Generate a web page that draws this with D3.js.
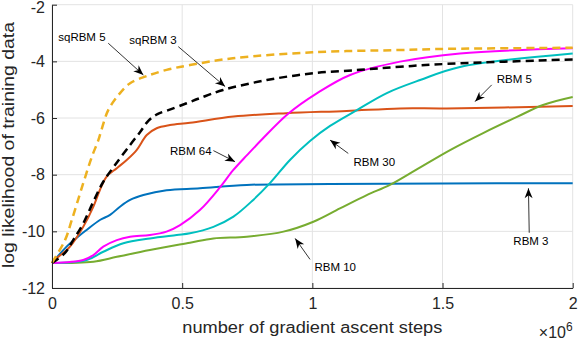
<!DOCTYPE html>
<html>
<head>
<meta charset="utf-8">
<script src="https://cdn.jsdelivr.net/npm/d3@7"></script>
<style>
  body { margin: 0; background: #fff; }
  svg { display: block; font-family: "Liberation Sans", Arial, sans-serif; }
</style>
</head>
<body>
<svg id="chart" width="578" height="342"></svg>
<script>
// gradient ascent steps (x 10^6) and log likelihood for each model
const stepsRbm3 = [0, 0.056, 0.108, 0.133, 0.184, 0.223, 0.261, 0.30, 0.351, 0.44, 0.568, 0.748, 1.068, 1.5, 2.0];
const llRbm3    = [-11.12, -10.54, -10.13, -9.95, -9.60, -9.42, -9.13, -8.89, -8.72, -8.55, -8.48, -8.36, -8.33, -8.31, -8.30];

const stepsRbm5 = [0, 0.018, 0.069, 0.12, 0.159, 0.184, 0.21, 0.249, 0.287, 0.325, 0.364, 0.402, 0.453, 0.53, 0.697, 0.90, 1.132, 1.337, 1.516, 2.0];
const llRbm5    = [-11.12, -10.95, -10.54, -9.84, -9.13, -8.54, -8.07, -7.77, -7.48, -7.13, -6.60, -6.36, -6.25, -6.17, -5.95, -5.83, -5.75, -5.66, -5.66, -5.58];

const stepsSq5 = [0, 0.05, 0.076, 0.12, 0.153, 0.178, 0.19, 0.216, 0.255, 0.30, 0.364, 0.44, 0.53, 0.695, 1.0, 1.337, 1.516, 2.0];
const llSq5    = [-11.11, -10.31, -9.60, -8.30, -7.37, -6.78, -6.42, -5.72, -5.19, -4.77, -4.52, -4.30, -4.13, -3.89, -3.68, -3.60, -3.56, -3.52];

const stepsSq3 = [0, 0.05, 0.082, 0.12, 0.159, 0.197, 0.242, 0.30, 0.338, 0.37, 0.405, 0.447, 0.517, 0.568, 0.657, 0.825, 1.003, 1.183, 1.337, 1.516, 2.0];
const llSq3    = [-11.12, -10.76, -10.30, -9.72, -8.95, -8.25, -7.66, -6.95, -6.50, -6.10, -5.86, -5.72, -5.48, -5.30, -5.01, -4.66, -4.42, -4.30, -4.19, -4.09, -3.93];

const stepsRbm64 = [0, 0.12, 0.159, 0.197, 0.249, 0.30, 0.376, 0.44, 0.492, 0.568, 0.645, 0.695, 0.75, 0.807, 0.907, 1.017, 1.145, 1.337, 1.567, 2.0];
const llRbm64    = [-11.12, -11.01, -10.84, -10.54, -10.31, -10.19, -10.13, -10.01, -9.78, -9.25, -8.45, -7.85, -7.30, -6.75, -5.85, -5.13, -4.48, -4.01, -3.72, -3.54];

const stepsRbm30 = [0, 0.133, 0.197, 0.274, 0.376, 0.479, 0.53, 0.62, 0.697, 0.773, 0.837, 0.914, 0.991, 1.068, 1.171, 1.286, 1.414, 1.567, 2.0];
const llRbm30    = [-11.12, -11.01, -10.72, -10.42, -10.25, -10.13, -10.07, -9.84, -9.48, -8.89, -8.30, -7.48, -6.81, -6.28, -5.72, -5.12, -4.66, -4.20, -3.72];

const stepsRbm10 = [0, 0.159, 0.249, 0.376, 0.53, 0.62, 0.748, 0.889, 1.004, 1.106, 1.209, 1.298, 1.398, 1.529, 1.656, 1.786, 1.886, 2.0];
const llRbm10    = [-11.12, -11.07, -10.90, -10.66, -10.40, -10.25, -10.19, -10.01, -9.66, -9.19, -8.72, -8.36, -7.83, -7.13, -6.53, -5.96, -5.54, -5.26];

const xTicks = [0, 0.5, 1, 1.5, 2];
const yTicks = [-12, -10, -8, -6, -4, -2];

// annotation labels: text anchor point, arrow start and arrow tip (data units)
const noteText   = ['sqRBM 5', 'sqRBM 3', 'RBM 64', 'RBM 30', 'RBM 5', 'RBM 10', 'RBM 3'];
const noteAnchor = ['start', 'start', 'end', 'start', 'start', 'start', 'start'];
const noteTextX  = [0.024, 0.297, 0.613, 1.158, 1.708, 1.008, 1.772];
const noteTextY  = [-3.28, -3.40, -7.31, -7.69, -4.75, -11.40, -10.48];
const noteFromX  = [0.216, 0.485, 0.62, 1.138, 1.689, 0.991, 1.833];
const noteFromY  = [-3.36, -3.48, -7.15, -7.25, -4.83, -10.99, -10.05];
const noteToX    = [0.351, 0.665, 0.703, 1.068, 1.625, 0.934, 1.83];
const noteToY    = [-4.48, -4.89, -7.54, -6.78, -5.42, -10.25, -8.48];

const series = [
    { name: 'RBM 3',   xs: stepsRbm3,  ys: llRbm3,  color: '#0072BD', dash: null, width: 2 },
    { name: 'RBM 5',   xs: stepsRbm5,  ys: llRbm5,  color: '#D95319', dash: null, width: 2 },
    { name: 'RBM 10',  xs: stepsRbm10, ys: llRbm10, color: '#77AC30', dash: null, width: 2 },
    { name: 'RBM 30',  xs: stepsRbm30, ys: llRbm30, color: '#00BFBF', dash: null, width: 2 },
    { name: 'RBM 64',  xs: stepsRbm64, ys: llRbm64, color: '#FF00FF', dash: null, width: 2 },
    { name: 'sqRBM 3', xs: stepsSq3,   ys: llSq3,   color: '#000000', dash: '8,5', width: 2.5 },
    { name: 'sqRBM 5', xs: stepsSq5,   ys: llSq5,   color: '#EDB120', dash: '8,5', width: 2.5 }
];

const MARGINS = { top: 4.7, right: 5.3, bottom: 54, left: 52 };
const WIDTH = 578, HEIGHT = 342;
const AXIS_COLOR = '#262626';

const svg = d3.select('#chart');

const xScale = d3.scaleLinear().domain([0, 2]).range([MARGINS.left, WIDTH - MARGINS.right]);
const yScale = d3.scaleLinear().domain([-12, -2]).range([HEIGHT - MARGINS.bottom, MARGINS.top]);

// grid lines
svg.append('g').selectAll('line')
    .data(xTicks)
    .join('line')
        .attr('x1', d => xScale(d)).attr('x2', d => xScale(d))
        .attr('y1', yScale(-12)).attr('y2', yScale(-2))
        .attr('stroke', '#e3e3e3').attr('stroke-width', 1);
svg.append('g').selectAll('line')
    .data(yTicks)
    .join('line')
        .attr('x1', xScale(0)).attr('x2', xScale(2))
        .attr('y1', d => yScale(d)).attr('y2', d => yScale(d))
        .attr('stroke', '#e3e3e3').attr('stroke-width', 1);

// curves
const line = d3.line()
    .x(d => xScale(d[0]))
    .y(d => yScale(d[1]))
    .curve(d3.curveCatmullRom.alpha(0.5));

svg.append('g').attr('class', 'curves')
    .selectAll('path')
    .data(series)
    .join('path')
        .attr('d', s => line(s.xs.map((x, i) => [x, s.ys[i]])))
        .attr('fill', 'none')
        .attr('stroke', s => s.color)
        .attr('stroke-width', s => s.width)
        .attr('stroke-dasharray', s => s.dash)
        .attr('stroke-linejoin', 'round');

// axes
const xAxis = d3.axisBottom(xScale)
    .tickValues(xTicks)
    .tickFormat(d => String(d))
    .tickSizeInner(-5).tickSizeOuter(0).tickPadding(10);
const yAxis = d3.axisLeft(yScale)
    .tickValues(yTicks)
    .tickFormat(d => String(d))
    .tickSizeInner(-5).tickSizeOuter(0).tickPadding(7);

const gx = svg.append('g')
    .attr('transform', `translate(0, ${HEIGHT - MARGINS.bottom})`)
    .call(xAxis);
const gy = svg.append('g')
    .attr('transform', `translate(${MARGINS.left}, 0)`)
    .call(yAxis);

[gx, gy].forEach(g => {
    g.select('.domain').attr('stroke', AXIS_COLOR).attr('stroke-width', 1);
    g.selectAll('.tick line').attr('stroke', AXIS_COLOR);
    g.selectAll('.tick text')
        .attr('fill', AXIS_COLOR)
        .style('font-size', '16px')
        .style('font-family', '"Liberation Sans", Arial, sans-serif');
});
// the top label is pushed inside the picture
gy.selectAll('.tick text').filter(d => d === -2).attr('dy', '0.5em');

// axis labels
svg.append('text')
    .attr('x', (xScale(0) + xScale(2)) / 2)
    .attr('y', 333)
    .attr('text-anchor', 'middle')
    .attr('fill', AXIS_COLOR)
    .attr('textLength', 260)
    .attr('lengthAdjust', 'spacingAndGlyphs')
    .style('font-size', '16px')
    .text('number of gradient ascent steps');

svg.append('text')
    .attr('transform', `translate(14, 145) rotate(-90)`)
    .attr('text-anchor', 'middle')
    .attr('fill', AXIS_COLOR)
    .attr('textLength', 246)
    .attr('lengthAdjust', 'spacingAndGlyphs')
    .style('font-size', '16px')
    .text('log likelihood of training data');

const expo = svg.append('text')
    .attr('x', xScale(2))
    .attr('y', 338)
    .attr('text-anchor', 'end')
    .attr('fill', AXIS_COLOR)
    .style('font-size', '16px');
expo.append('tspan').text('\u00d710');
expo.append('tspan').attr('dy', -7).style('font-size', '12px').text('6');

// annotations with arrows
const notes = noteText.map((t, i) => ({
    text: t, anchor: noteAnchor[i],
    tx: noteTextX[i], ty: noteTextY[i],
    fx: noteFromX[i], fy: noteFromY[i],
    ex: noteToX[i], ey: noteToY[i]
}));

const gNotes = svg.append('g').attr('class', 'notes');

gNotes.selectAll('text')
    .data(notes)
    .join('text')
        .attr('x', d => xScale(d.tx))
        .attr('y', d => yScale(d.ty))
        .attr('text-anchor', d => d.anchor)
        .attr('fill', '#000')
        .style('font-size', '11.5px')
        .text(d => d.text);

function arrowPath(d) {
    const x1 = xScale(d.fx), y1 = yScale(d.fy);
    const x2 = xScale(d.ex), y2 = yScale(d.ey);
    const ang = Math.atan2(y2 - y1, x2 - x1);
    const L = 10, W = 4, notch = 7;
    const cos = Math.cos(ang), sin = Math.sin(ang);
    const bx = x2 - L * cos, by = y2 - L * sin;
    const nx = x2 - notch * cos, ny = y2 - notch * sin;
    const p1 = [bx - W * sin, by + W * cos];
    const p2 = [bx + W * sin, by - W * cos];
    return `M${x2},${y2}L${p1[0]},${p1[1]}L${nx},${ny}L${p2[0]},${p2[1]}Z`;
}

gNotes.selectAll('line')
    .data(notes)
    .join('line')
        .attr('x1', d => xScale(d.fx))
        .attr('y1', d => yScale(d.fy))
        .attr('x2', d => xScale(d.ex))
        .attr('y2', d => yScale(d.ey))
        .attr('stroke', '#000')
        .attr('stroke-width', 0.8);

gNotes.selectAll('path')
    .data(notes)
    .join('path')
        .attr('d', arrowPath)
        .attr('fill', '#000');
</script>
</body>
</html>
